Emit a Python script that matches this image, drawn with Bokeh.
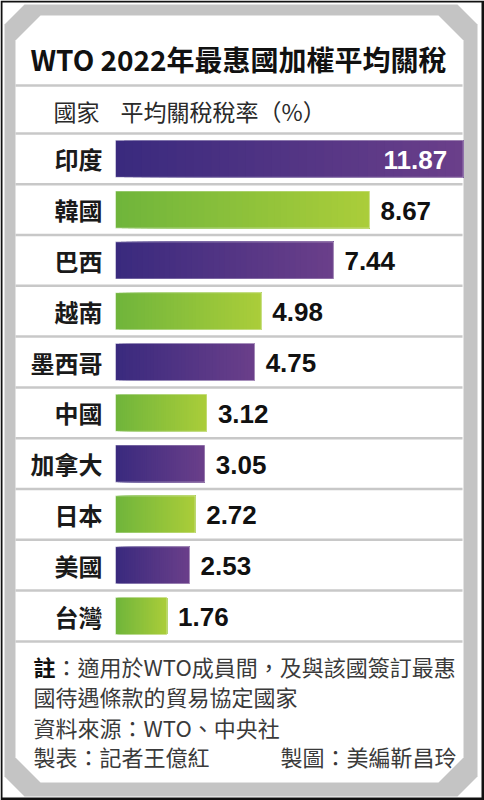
from bokeh.plotting import figure
from bokeh.models import Range1d
from bokeh.core.properties import value
from bokeh.embed import file_html
from bokeh.resources import INLINE

# ---------------- data ----------------
title_text = "WTO 2022年最惠國加權平均關稅"
header_country = "國家"
header_rate = "平均關稅稅率（%）"
countries = ["印度", "韓國", "巴西", "越南", "墨西哥", "中國", "加拿大", "日本", "美國", "台灣"]
rates = [11.87, 8.67, 7.44, 4.98, 4.75, 3.12, 3.05, 2.72, 2.53, 1.76]
rate_labels = ["11.87", "8.67", "7.44", "4.98", "4.75", "3.12", "3.05", "2.72", "2.53", "1.76"]
note_bold = "註"
note_line1 = "：適用於WTO成員間，及與該國簽訂最惠"
note_line2 = "國待遇條款的貿易協定國家"
source_line = "資料來源：WTO、中央社"
credit_left = "製表：記者王億紅"
credit_right = "製圖：美編靳昌玲"

# ---------------- layout ----------------
W, H = 484, 800
OFF = 0
ZERO_PX = 115.0              # pixel where value 0 sits
PX_PER_UNIT = 29.29
ROW0_PX = 158.3
ROW_PITCH = 50.8
CJK = value("Noto Sans CJK TC")
NUMF = value("Liberation Sans")

x_range = Range1d((OFF - ZERO_PX) / PX_PER_UNIT, (OFF + W - ZERO_PX) / PX_PER_UNIT)
y_range = Range1d((OFF + H - ROW0_PX) / ROW_PITCH, (OFF - ROW0_PX) / ROW_PITCH)

p = figure(width=W, height=H, x_range=x_range, y_range=y_range,
           output_backend="svg", toolbar_location=None,
           x_axis_type=None, y_axis_type=None, min_border=0)
p.extra_x_ranges = {"px": Range1d(OFF, OFF + W)}
p.extra_y_ranges = {"px": Range1d(OFF + H, OFF)}
p.grid.visible = False
p.outline_line_color = None
p.background_fill_color = "white"
p.border_fill_color = "white"

# ---------------- frame ----------------
p.patch([0, 484, 484, 0], [0, 0, 800, 800], fill_color="#111111", line_color=None,
        x_range_name="px", y_range_name="px")
p.patch([2, 481, 481, 2], [2, 2, 797, 797], fill_color="white", line_color=None,
        x_range_name="px", y_range_name="px")
p.patch([4, 24, 457, 477, 477, 457, 24, 4], [24, 4, 4, 24, 776, 796, 796, 776],
        fill_color="#c4c4c4", line_color=None, x_range_name="px", y_range_name="px")
p.patch([15, 40, 438, 463, 463, 438, 40, 15], [40, 15, 15, 40, 757, 782, 782, 757],
        fill_color="white", line_color=None, x_range_name="px", y_range_name="px")

# separators
p.segment(x0=[15], x1=[462], y0=[85], y1=[85], line_color="#c8c8c8", line_width=2.5,
          x_range_name="px", y_range_name="px")
n = len(countries)
sep_y = [i - 0.5 for i in range(n + 1)]
p.segment(x0=[15] * len(sep_y), x1=[462] * len(sep_y), y0=sep_y, y1=sep_y,
          line_color="#c8c8c8", line_width=2.5, x_range_name="px")

# ---------------- gradient bars ----------------
def hexrgb(h):
    h = h.lstrip("#")
    return tuple(int(h[i:i + 2], 16) for i in (0, 2, 4))

def mix(c1, c2, t):
    a, b = hexrgb(c1), hexrgb(c2)
    return "#%02x%02x%02x" % tuple(round(a[j] + (b[j] - a[j]) * t) for j in range(3))

PURPLE = ("#3a2a7e", "#6a3f8a")
GREEN = ("#70b53b", "#aacd3a")
HALF = 0.365
N = 40
L, R, T, B, C = [], [], [], [], []
for i, v in enumerate(rates):
    c1, c2 = PURPLE if i % 2 == 0 else GREEN
    for k in range(N):
        L.append(v * k / N)
        R.append(v)
        T.append(i - HALF)
        B.append(i + HALF)
        C.append(mix(c1, c2, k / (N - 1)))
p.quad(left=L, right=R, top=T, bottom=B, fill_color=C, line_color=None)
p.quad(left=[0] * n, right=rates, top=[i - HALF for i in range(n)], bottom=[i + HALF for i in range(n)],
       fill_color=None, line_color="white", line_alpha=0.45, line_width=1)

# ---------------- texts ----------------
p.text(x=[238], y=[58], text=[title_text], x_range_name="px", y_range_name="px",
       text_font=CJK, text_font_style="bold", text_font_size="28px", text_color="#111111",
       text_align="center", text_baseline="middle")
p.text(x=[53, 120], y=[110, 110], text=[header_country, header_rate], x_range_name="px", y_range_name="px",
       text_font=CJK, text_font_size="23px", text_color="#2a2a2a", text_baseline="middle")

p.text(x=[102] * n, y=list(range(n)), text=countries, x_range_name="px",
       text_font=CJK, text_font_style="bold", text_font_size="24px", text_color="#1a1a1a",
       text_align="right", text_baseline="middle")

vmax = max(rates)
inside = [i for i, v in enumerate(rates) if v == vmax]
outside = [i for i, v in enumerate(rates) if v != vmax]
p.text(x=[rates[i] for i in outside], y=outside, text=[rate_labels[i] for i in outside],
       x_offset=11, y_offset=1, text_font=NUMF, text_font_style="bold", text_font_size="26px",
       text_color="#111111", text_align="left", text_baseline="middle")
p.text(x=[rates[i] for i in inside], y=inside, text=[rate_labels[i] for i in inside],
       x_offset=-16, y_offset=1, text_font=NUMF, text_font_style="bold", text_font_size="26px",
       text_color="white", text_align="right", text_baseline="middle")

# footnotes
p.text(x=[33], y=[665], text=[note_bold], x_range_name="px", y_range_name="px",
       text_font=CJK, text_font_style="bold", text_font_size="22px", text_color="#111111",
       text_baseline="middle")
p.text(x=[55, 33, 33, 33], y=[665, 695, 726, 755],
       text=[note_line1, note_line2, source_line, credit_left],
       x_range_name="px", y_range_name="px",
       text_font=CJK, text_font_size="22px", text_color="#3a3a3a", text_baseline="middle")
p.text(x=[456], y=[755], text=[credit_right], x_range_name="px", y_range_name="px",
       text_font=CJK, text_font_size="22px", text_color="#3a3a3a", text_align="right",
       text_baseline="middle")

open("out.html", "w").write(file_html(p, INLINE))
